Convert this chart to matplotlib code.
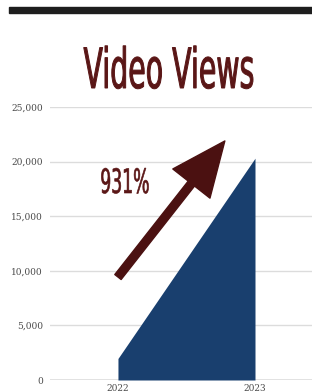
import matplotlib
matplotlib.use("Agg")
import matplotlib.pyplot as plt
import matplotlib.patches as mpatches
from matplotlib import patheffects
from matplotlib.transforms import Affine2D

# data
years = [2022, 2023]
views = [1970, 20310]
yticks = [0, 5000, 10000, 15000, 20000, 25000]
ytick_labels = ["0", "5,000", "10,000", "15,000", "20,000", "25,000"]
title = "Video Views"
growth_label = "931%"

MAROON = "#5a1616"
ARROW = "#4b1111"
NAVY = "#193f6e"
W, H = 312, 392


class Stretch(patheffects.AbstractPathEffect):
    """scale glyphs around centre / baseline and thicken them a little"""
    def __init__(self, sx, sy, lw, color):
        super().__init__()
        self.sx, self.sy, self.lw, self.color = sx, sy, lw, color

    def draw_path(self, renderer, gc, tpath, affine, rgbFace=None):
        ext = tpath.get_extents()
        cx = (ext.x0 + ext.x1) / 2
        t = Affine2D().translate(-cx, 0).scale(self.sx, self.sy).translate(cx, 0) + affine
        gc0 = renderer.new_gc()
        gc0.copy_properties(gc)
        gc0.set_linewidth(self.lw)
        gc0.set_foreground(self.color)
        gc0.set_joinstyle("miter")
        renderer.draw_path(gc0, tpath, t, rgbFace)
        gc0.restore()


def condensed_text(fig, s, x_px, base_px, cap_px, width_px, color, lw):
    t = fig.text(x_px / W, 1 - base_px / H, s, ha="center", va="baseline",
                 fontsize=20, color=color,
                 family=["Liberation Sans Narrow", "DejaVu Sans"])
    fig.canvas.draw()
    bb = t.get_window_extent(fig.canvas.get_renderer())
    size = 20 * width_px / bb.width
    t.set_fontsize(size)
    fig.canvas.draw()
    bb = t.get_window_extent(fig.canvas.get_renderer())
    natural_cap = size * fig.dpi / 72 * 0.729
    t.set_path_effects([Stretch(width_px / bb.width, cap_px / natural_cap, lw, color)])
    return t


fig = plt.figure(figsize=(W / 100, H / 100), dpi=100)
ax = fig.add_axes([50 / W, 12 / H, 262 / W, 273 / H])

ax.fill_between(years, views, color=NAVY, lw=0, zorder=2)
ax.set_xlim(2021.504, 2023.416)
ax.set_ylim(0, 25000)

ax.set_yticks(yticks)
ax.set_yticklabels(ytick_labels)
ax.set_xticks(years)
ax.set_xticklabels([str(y) for y in years])
ax.tick_params(length=0, labelsize=6.5, labelcolor="#4a4a4a")
ax.tick_params(axis="y", pad=5)
ax.tick_params(axis="x", pad=3)
for lab in ax.get_xticklabels() + ax.get_yticklabels():
    lab.set_family("DejaVu Serif")

for s in ax.spines.values():
    s.set_visible(False)
ax.yaxis.grid(True, color="#dcdcdc", lw=1, zorder=0)
ax.set_axisbelow(True)
ax.axhline(0, color="#8c8c8c", lw=1, zorder=1)

# growth arrow
arrow = mpatches.FancyArrowPatch(
    (2022.0, 9430), (2022.78, 21890),
    arrowstyle=mpatches.ArrowStyle.Simple(head_length=39, head_width=34, tail_width=5.8),
    color=ARROW, shrinkA=0, shrinkB=0, mutation_scale=1, zorder=3, clip_on=False)
ax.add_patch(arrow)

# black rule at the top of the page
fig.patches.append(mpatches.Rectangle((9 / W, 1 - 13 / H), 1, 6 / H,
                                      transform=fig.transFigure, color="#1e1e1e"))

condensed_text(fig, title, 169, 88, 40.5, 171, MAROON, 0.7)
condensed_text(fig, growth_label, 125, 193, 24.5, 49.5, MAROON, 0.45)

fig.savefig("out.png", dpi=100)
